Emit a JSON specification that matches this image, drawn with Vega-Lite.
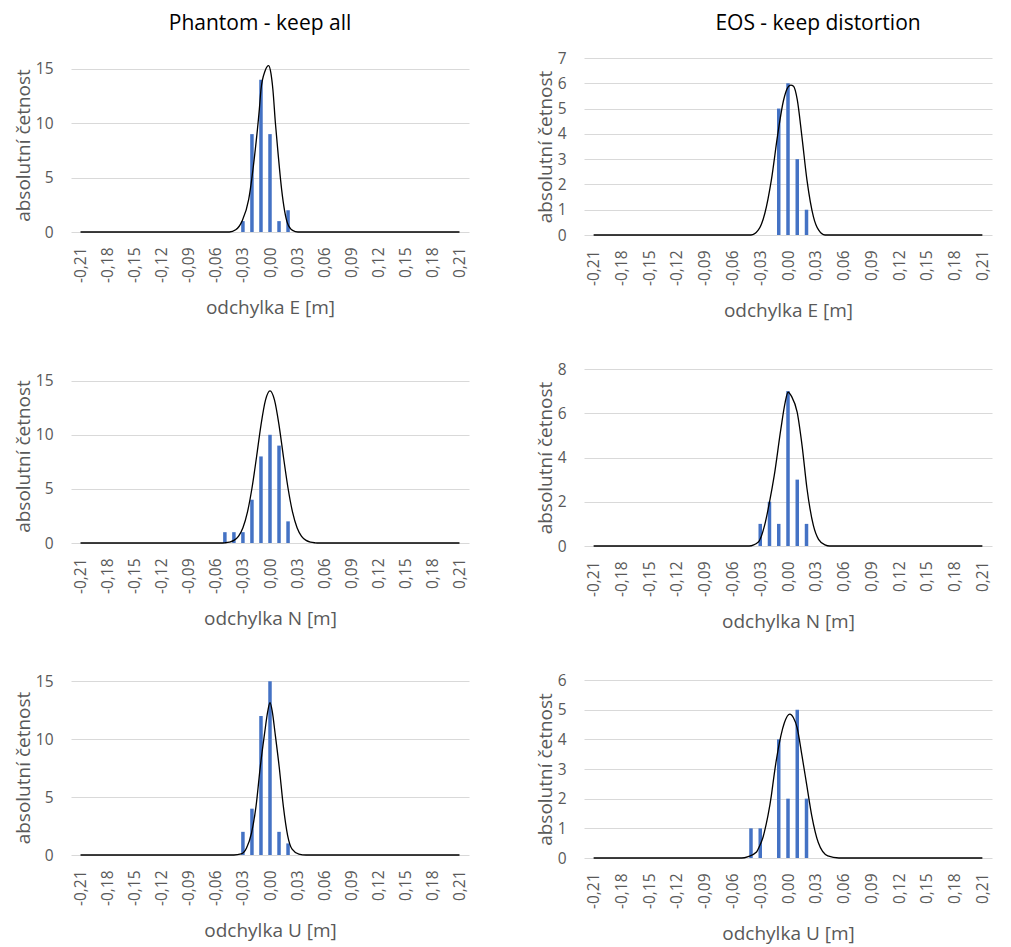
{
  "$schema": "https://vega.github.io/schema/vega-lite/v6.json",
  "background": "white",
  "padding": {"left": 14, "top": 13, "right": 5, "bottom": 5},
  "bounds": "flush",
  "align": "each",
  "columns": 2,
  "spacing": {"row": 134, "column": 115},
  "datasets": {
    "bars": [
      {"p": "PE", "x": -0.03, "y": 1}, {"p": "PE", "x": -0.02, "y": 9}, {"p": "PE", "x": -0.01, "y": 14}, {"p": "PE", "x": 0, "y": 9}, {"p": "PE", "x": 0.01, "y": 1}, {"p": "PE", "x": 0.02, "y": 2},
      {"p": "EE", "x": -0.01, "y": 5}, {"p": "EE", "x": 0, "y": 6}, {"p": "EE", "x": 0.01, "y": 3}, {"p": "EE", "x": 0.02, "y": 1},
      {"p": "PN", "x": -0.05, "y": 1}, {"p": "PN", "x": -0.04, "y": 1}, {"p": "PN", "x": -0.03, "y": 1}, {"p": "PN", "x": -0.02, "y": 4}, {"p": "PN", "x": -0.01, "y": 8}, {"p": "PN", "x": 0, "y": 10}, {"p": "PN", "x": 0.01, "y": 9}, {"p": "PN", "x": 0.02, "y": 2},
      {"p": "EN", "x": -0.03, "y": 1}, {"p": "EN", "x": -0.02, "y": 2}, {"p": "EN", "x": -0.01, "y": 1}, {"p": "EN", "x": 0, "y": 7}, {"p": "EN", "x": 0.01, "y": 3}, {"p": "EN", "x": 0.02, "y": 1},
      {"p": "PU", "x": -0.03, "y": 2}, {"p": "PU", "x": -0.02, "y": 4}, {"p": "PU", "x": -0.01, "y": 12}, {"p": "PU", "x": 0, "y": 15}, {"p": "PU", "x": 0.01, "y": 2}, {"p": "PU", "x": 0.02, "y": 1},
      {"p": "EU", "x": -0.04, "y": 1}, {"p": "EU", "x": -0.03, "y": 1}, {"p": "EU", "x": -0.01, "y": 4}, {"p": "EU", "x": 0, "y": 2}, {"p": "EU", "x": 0.01, "y": 5}, {"p": "EU", "x": 0.02, "y": 2}
    ],
    "curve": [
      {"p": "PE", "x": -0.21, "y": 0}, {"p": "PE", "x": -0.045, "y": 0}, {"p": "PE", "x": -0.038, "y": 0.2}, {"p": "PE", "x": -0.031, "y": 1.0}, {"p": "PE", "x": -0.0236, "y": 3.0}, {"p": "PE", "x": -0.0171, "y": 7.0}, {"p": "PE", "x": -0.0118, "y": 11.3}, {"p": "PE", "x": -0.01, "y": 13.1}, {"p": "PE", "x": -0.0055, "y": 14.8}, {"p": "PE", "x": -0.0015, "y": 15.3}, {"p": "PE", "x": 0.001, "y": 14.6}, {"p": "PE", "x": 0.0032, "y": 13.1}, {"p": "PE", "x": 0.006, "y": 10.0}, {"p": "PE", "x": 0.0092, "y": 7.0}, {"p": "PE", "x": 0.0129, "y": 3.9}, {"p": "PE", "x": 0.0193, "y": 0.83}, {"p": "PE", "x": 0.025, "y": 0.15}, {"p": "PE", "x": 0.031, "y": 0}, {"p": "PE", "x": 0.21, "y": 0},
      {"p": "EE", "x": -0.21, "y": 0}, {"p": "EE", "x": -0.04, "y": 0}, {"p": "EE", "x": -0.032, "y": 0.2}, {"p": "EE", "x": -0.025, "y": 0.86}, {"p": "EE", "x": -0.018, "y": 2.17}, {"p": "EE", "x": -0.011, "y": 4.0}, {"p": "EE", "x": -0.005, "y": 5.3}, {"p": "EE", "x": 0, "y": 5.85}, {"p": "EE", "x": 0.003, "y": 5.93}, {"p": "EE", "x": 0.006, "y": 5.88}, {"p": "EE", "x": 0.01, "y": 5.35}, {"p": "EE", "x": 0.015, "y": 3.9}, {"p": "EE", "x": 0.0205, "y": 2.17}, {"p": "EE", "x": 0.0275, "y": 0.72}, {"p": "EE", "x": 0.033, "y": 0.2}, {"p": "EE", "x": 0.04, "y": 0}, {"p": "EE", "x": 0.21, "y": 0},
      {"p": "PN", "x": -0.21, "y": 0}, {"p": "PN", "x": -0.055, "y": 0}, {"p": "PN", "x": -0.05, "y": 0.02}, {"p": "PN", "x": -0.045, "y": 0.08}, {"p": "PN", "x": -0.04, "y": 0.24}, {"p": "PN", "x": -0.035, "y": 0.62}, {"p": "PN", "x": -0.03, "y": 1.41}, {"p": "PN", "x": -0.025, "y": 2.85}, {"p": "PN", "x": -0.02, "y": 5.06}, {"p": "PN", "x": -0.015, "y": 7.9}, {"p": "PN", "x": -0.01, "y": 10.9}, {"p": "PN", "x": -0.005, "y": 13.2}, {"p": "PN", "x": 0, "y": 14.05}, {"p": "PN", "x": 0.005, "y": 13.2}, {"p": "PN", "x": 0.01, "y": 10.9}, {"p": "PN", "x": 0.015, "y": 7.9}, {"p": "PN", "x": 0.02, "y": 5.06}, {"p": "PN", "x": 0.025, "y": 2.85}, {"p": "PN", "x": 0.03, "y": 1.41}, {"p": "PN", "x": 0.035, "y": 0.62}, {"p": "PN", "x": 0.04, "y": 0.24}, {"p": "PN", "x": 0.045, "y": 0.08}, {"p": "PN", "x": 0.05, "y": 0.02}, {"p": "PN", "x": 0.055, "y": 0}, {"p": "PN", "x": 0.21, "y": 0},
      {"p": "EN", "x": -0.21, "y": 0}, {"p": "EN", "x": -0.042, "y": 0}, {"p": "EN", "x": -0.032, "y": 0.18}, {"p": "EN", "x": -0.0253, "y": 0.93}, {"p": "EN", "x": -0.02, "y": 1.98}, {"p": "EN", "x": -0.0148, "y": 3.2}, {"p": "EN", "x": -0.0077, "y": 5.29}, {"p": "EN", "x": -0.003, "y": 6.5}, {"p": "EN", "x": 0, "y": 6.95}, {"p": "EN", "x": 0.004, "y": 6.75}, {"p": "EN", "x": 0.0099, "y": 6.05}, {"p": "EN", "x": 0.0152, "y": 4.54}, {"p": "EN", "x": 0.0205, "y": 2.6}, {"p": "EN", "x": 0.0274, "y": 0.93}, {"p": "EN", "x": 0.033, "y": 0.3}, {"p": "EN", "x": 0.04, "y": 0.05}, {"p": "EN", "x": 0.045, "y": 0}, {"p": "EN", "x": 0.21, "y": 0},
      {"p": "PU", "x": -0.21, "y": 0}, {"p": "PU", "x": -0.04, "y": 0}, {"p": "PU", "x": -0.032, "y": 0.09}, {"p": "PU", "x": -0.026, "y": 0.6}, {"p": "PU", "x": -0.0205, "y": 1.9}, {"p": "PU", "x": -0.0155, "y": 4.2}, {"p": "PU", "x": -0.0108, "y": 7.6}, {"p": "PU", "x": -0.006, "y": 10.5}, {"p": "PU", "x": -0.0025, "y": 12.4}, {"p": "PU", "x": 0, "y": 13.15}, {"p": "PU", "x": 0.0025, "y": 12.4}, {"p": "PU", "x": 0.0055, "y": 10.6}, {"p": "PU", "x": 0.0102, "y": 7.6}, {"p": "PU", "x": 0.0148, "y": 4.2}, {"p": "PU", "x": 0.0195, "y": 1.7}, {"p": "PU", "x": 0.0245, "y": 0.5}, {"p": "PU", "x": 0.032, "y": 0.08}, {"p": "PU", "x": 0.04, "y": 0}, {"p": "PU", "x": 0.21, "y": 0},
      {"p": "EU", "x": -0.21, "y": 0}, {"p": "EU", "x": -0.05, "y": 0}, {"p": "EU", "x": -0.043, "y": 0.05}, {"p": "EU", "x": -0.034, "y": 0.2}, {"p": "EU", "x": -0.0306, "y": 0.41}, {"p": "EU", "x": -0.027, "y": 0.7}, {"p": "EU", "x": -0.0235, "y": 1.15}, {"p": "EU", "x": -0.0215, "y": 1.45}, {"p": "EU", "x": -0.018, "y": 2.1}, {"p": "EU", "x": -0.0165, "y": 2.45}, {"p": "EU", "x": -0.013, "y": 3.22}, {"p": "EU", "x": -0.0077, "y": 4.12}, {"p": "EU", "x": -0.004, "y": 4.55}, {"p": "EU", "x": 0.002, "y": 4.85}, {"p": "EU", "x": 0.006, "y": 4.72}, {"p": "EU", "x": 0.0098, "y": 4.4}, {"p": "EU", "x": 0.0151, "y": 3.45}, {"p": "EU", "x": 0.0204, "y": 2.43}, {"p": "EU", "x": 0.0257, "y": 1.42}, {"p": "EU", "x": 0.0327, "y": 0.52}, {"p": "EU", "x": 0.043, "y": 0.07}, {"p": "EU", "x": 0.055, "y": 0}, {"p": "EU", "x": 0.21, "y": 0}
    ]
  },
  "config": {
    "view": {"stroke": null},
    "font": "Open Sans",
    "axis": {
      "labelFont": "Open Sans", "labelFontSize": 15.5, "labelColor": "#595959",
      "titleFont": "Open Sans", "titleFontSize": 19, "titleFontWeight": "normal", "titleColor": "#595959",
      "domain": false, "ticks": false, "tickSize": 0, "tickCount": 100,
      "gridColor": "#d9d9d9", "gridWidth": 1, "labelFlush": false, "labelOverlap": false
    },
    "axisX": {"grid": false, "labelAngle": -90, "labelPadding": 15, "titlePadding": 16},
    "axisY": {"grid": true, "labelPadding": 18, "titlePadding": 2, "format": "d"},
    "title": {"font": "Open Sans", "fontSize": 21, "fontWeight": "normal", "color": "#000000", "anchor": "middle", "frame": "group", "offset": 24}
  },
  "concat": [
    {
      "width": 398, "height": 174,
      "title": {"text": "Phantom - keep all", "dx": -10},
      "encoding": {
        "x": {"field": "x", "type": "quantitative", "scale": {"domain": [-0.215, 0.215], "nice": false, "zero": false},
              "axis": {"title": "odchylka E [m]", "tickCount": 100, "labelOverlap": false, "values": [-0.21, -0.18, -0.15, -0.12, -0.09, -0.06, -0.03, 0, 0.03, 0.06, 0.09, 0.12, 0.15, 0.18, 0.21], "labelExpr": "replace(replace(format(datum.value, '.2f'), '.', ','), '\u2212', '-')"}},
        "y": {"field": "y", "type": "quantitative", "scale": {"domain": [0, 16], "nice": false},
              "axis": {"title": "absolutní četnost", "format": "d", "tickCount": 100, "labelOverlap": false, "values": [0, 5, 10, 15]}}
      },
      "layer": [
        {"data": {"name": "bars"}, "transform": [{"filter": "datum.p == 'PE'"}],
         "mark": {"type": "bar", "width": 3.5, "color": "#4472C4"}},
        {"data": {"name": "curve"}, "transform": [{"filter": "datum.p == 'PE'"}],
         "mark": {"type": "line", "color": "#000000", "strokeWidth": 1.3, "interpolate": "monotone"}}
      ]
    },
    {
      "width": 408, "height": 177,
      "title": {"text": "EOS - keep distortion", "dx": 30, "offset": 17},
      "encoding": {
        "x": {"field": "x", "type": "quantitative", "scale": {"domain": [-0.215, 0.215], "nice": false, "zero": false},
              "axis": {"title": "odchylka E [m]", "tickCount": 100, "labelOverlap": false, "values": [-0.21, -0.18, -0.15, -0.12, -0.09, -0.06, -0.03, 0, 0.03, 0.06, 0.09, 0.12, 0.15, 0.18, 0.21], "labelExpr": "replace(replace(format(datum.value, '.2f'), '.', ','), '\u2212', '-')"}},
        "y": {"field": "y", "type": "quantitative", "scale": {"domain": [0, 7], "nice": false},
              "axis": {"title": "absolutní četnost", "format": "d", "tickCount": 100, "labelOverlap": false, "values": [0, 1, 2, 3, 4, 5, 6, 7]}}
      },
      "layer": [
        {"data": {"name": "bars"}, "transform": [{"filter": "datum.p == 'EE'"}],
         "mark": {"type": "bar", "width": 3.5, "color": "#4472C4"}},
        {"data": {"name": "curve"}, "transform": [{"filter": "datum.p == 'EE'"}],
         "mark": {"type": "line", "color": "#000000", "strokeWidth": 1.3, "interpolate": "monotone"}}
      ]
    },
    {
      "width": 398, "height": 174,
      "encoding": {
        "x": {"field": "x", "type": "quantitative", "scale": {"domain": [-0.215, 0.215], "nice": false, "zero": false},
              "axis": {"title": "odchylka N [m]", "tickCount": 100, "labelOverlap": false, "values": [-0.21, -0.18, -0.15, -0.12, -0.09, -0.06, -0.03, 0, 0.03, 0.06, 0.09, 0.12, 0.15, 0.18, 0.21], "labelExpr": "replace(replace(format(datum.value, '.2f'), '.', ','), '\u2212', '-')"}},
        "y": {"field": "y", "type": "quantitative", "scale": {"domain": [0, 16.08], "nice": false},
              "axis": {"title": "absolutní četnost", "format": "d", "tickCount": 100, "labelOverlap": false, "values": [0, 5, 10, 15]}}
      },
      "layer": [
        {"data": {"name": "bars"}, "transform": [{"filter": "datum.p == 'PN'"}],
         "mark": {"type": "bar", "width": 3.5, "color": "#4472C4"}},
        {"data": {"name": "curve"}, "transform": [{"filter": "datum.p == 'PN'"}],
         "mark": {"type": "line", "color": "#000000", "strokeWidth": 1.3, "interpolate": "monotone"}}
      ]
    },
    {
      "width": 408, "height": 177,
      "encoding": {
        "x": {"field": "x", "type": "quantitative", "scale": {"domain": [-0.215, 0.215], "nice": false, "zero": false},
              "axis": {"title": "odchylka N [m]", "tickCount": 100, "labelOverlap": false, "values": [-0.21, -0.18, -0.15, -0.12, -0.09, -0.06, -0.03, 0, 0.03, 0.06, 0.09, 0.12, 0.15, 0.18, 0.21], "labelExpr": "replace(replace(format(datum.value, '.2f'), '.', ','), '\u2212', '-')"}},
        "y": {"field": "y", "type": "quantitative", "scale": {"domain": [0, 8], "nice": false},
              "axis": {"title": "absolutní četnost", "format": "d", "tickCount": 100, "labelOverlap": false, "values": [0, 2, 4, 6, 8]}}
      },
      "layer": [
        {"data": {"name": "bars"}, "transform": [{"filter": "datum.p == 'EN'"}],
         "mark": {"type": "bar", "width": 3.5, "color": "#4472C4"}},
        {"data": {"name": "curve"}, "transform": [{"filter": "datum.p == 'EN'"}],
         "mark": {"type": "line", "color": "#000000", "strokeWidth": 1.3, "interpolate": "monotone"}}
      ]
    },
    {
      "width": 398, "height": 175,
      "encoding": {
        "x": {"field": "x", "type": "quantitative", "scale": {"domain": [-0.215, 0.215], "nice": false, "zero": false},
              "axis": {"title": "odchylka U [m]", "tickCount": 100, "labelOverlap": false, "values": [-0.21, -0.18, -0.15, -0.12, -0.09, -0.06, -0.03, 0, 0.03, 0.06, 0.09, 0.12, 0.15, 0.18, 0.21], "labelExpr": "replace(replace(format(datum.value, '.2f'), '.', ','), '\u2212', '-')"}},
        "y": {"field": "y", "type": "quantitative", "scale": {"domain": [0, 15.11], "nice": false},
              "axis": {"title": "absolutní četnost", "format": "d", "tickCount": 100, "labelOverlap": false, "values": [0, 5, 10, 15]}}
      },
      "layer": [
        {"data": {"name": "bars"}, "transform": [{"filter": "datum.p == 'PU'"}],
         "mark": {"type": "bar", "width": 3.5, "color": "#4472C4"}},
        {"data": {"name": "curve"}, "transform": [{"filter": "datum.p == 'PU'"}],
         "mark": {"type": "line", "color": "#000000", "strokeWidth": 1.3, "interpolate": "monotone"}}
      ]
    },
    {
      "width": 408, "height": 178,
      "encoding": {
        "x": {"field": "x", "type": "quantitative", "scale": {"domain": [-0.215, 0.215], "nice": false, "zero": false},
              "axis": {"title": "odchylka U [m]", "tickCount": 100, "labelOverlap": false, "values": [-0.21, -0.18, -0.15, -0.12, -0.09, -0.06, -0.03, 0, 0.03, 0.06, 0.09, 0.12, 0.15, 0.18, 0.21], "labelExpr": "replace(replace(format(datum.value, '.2f'), '.', ','), '\u2212', '-')"}},
        "y": {"field": "y", "type": "quantitative", "scale": {"domain": [0, 6], "nice": false},
              "axis": {"title": "absolutní četnost", "format": "d", "tickCount": 100, "labelOverlap": false, "values": [0, 1, 2, 3, 4, 5, 6]}}
      },
      "layer": [
        {"data": {"name": "bars"}, "transform": [{"filter": "datum.p == 'EU'"}],
         "mark": {"type": "bar", "width": 3.5, "color": "#4472C4"}},
        {"data": {"name": "curve"}, "transform": [{"filter": "datum.p == 'EU'"}],
         "mark": {"type": "line", "color": "#000000", "strokeWidth": 1.3, "interpolate": "monotone"}}
      ]
    }
  ]
}
